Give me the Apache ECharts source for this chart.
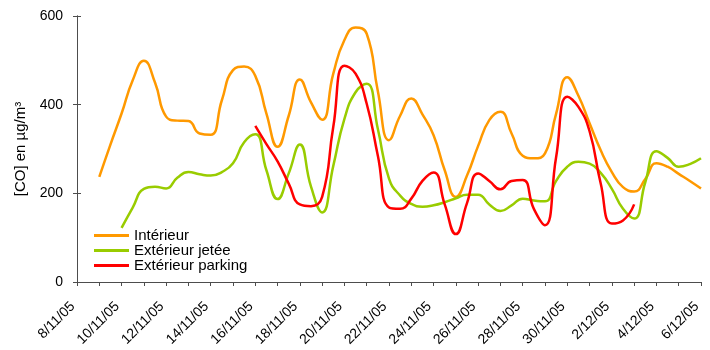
<!DOCTYPE html>
<html>
<head>
<meta charset="utf-8">
<script src="https://cdn.jsdelivr.net/npm/echarts@6/dist/echarts.min.js"></script>
<style>
  html, body { margin: 0; padding: 0; background: #ffffff; }
  #chart { width: 710px; height: 350px; }
</style>
</head>
<body>
<div id="chart"></div>
<script>
// jours du 8/11/05 au 6/12/05 (libellés de l'axe)
const dates = [
  '8/11/05', '9/11/05', '10/11/05', '11/11/05', '12/11/05', '13/11/05', '14/11/05',
  '15/11/05', '16/11/05', '17/11/05', '18/11/05', '19/11/05', '20/11/05', '21/11/05',
  '22/11/05', '23/11/05', '24/11/05', '25/11/05', '26/11/05', '27/11/05', '28/11/05',
  '29/11/05', '30/11/05', '1/12/05', '2/12/05', '3/12/05', '4/12/05', '5/12/05', '6/12/05'
]

// relevés toutes les 12 h : minuit puis midi
const slots = dates.flatMap((d, i) => i < dates.length - 1 ? [d, d + ' 12h'] : [d])

// [CO] en µg/m3, un point par demi-journée
const interieur = [
  null, null,
  237, 310, 380, 455, 499, 450, 373, 364, 363, 335, 332, 410, 478, 486, 465, 380,
  305, 375, 457, 405, 366, 470, 546, 574, 560, 430, 320, 375, 414, 378, 331, 252,
  192, 240, 307, 365, 384, 335, 285, 279, 290, 380, 462, 420, 358, 297, 248, 214,
  204, 232, 268, 260, 244, 228, 211
]

const exterieurJetee = [
  null, null, null, null,
  122, 168, 210, 215, 211, 235, 248, 243, 240, 248, 268, 315, 333, 252, 187, 245,
  310, 215, 157, 262, 368, 428, 447, 345, 233, 195, 176, 170, 173, 180, 189, 197,
  197, 175, 160, 173, 188, 184, 182, 228, 260, 271, 267, 246, 210, 165, 143, 225,
  295, 280, 260, 266, 279
]

const exterieurParking = [
  null, null, null, null, null, null, null, null,
  null, null, null, null, null, null, null, null,
  352, 311, 272, 222, 175, 171, 192, 350, 488, 470, 402, 285, 168, 165, 188, 228,
  247, 175, 108, 178, 245, 228, 209, 228, 230, 165, 128, 282, 418, 395, 340, 222,
  132, 139, 175,
  null, null, null, null, null, null
]

const yTicks = [0, 200, 400, 600]

const FONT = '"Liberation Sans", Arial, sans-serif'
const AXIS_COLOR = '#4d4d4d'

function lineSeries(name, data, color) {
  return {
    name,
    type: 'line',
    data,
    smooth: 0.5,
    showSymbol: false,
    connectNulls: false,
    lineStyle: { color, width: 2.5 },
    itemStyle: { color }
  }
}

function buildOption() {
  return {
    backgroundColor: '#ffffff',
    animation: false,
    textStyle: { fontFamily: FONT, color: '#000000' },
    grid: { left: 77, right: 9, top: 16, bottom: 68 },
    legend: {
      orient: 'vertical',
      left: 94,
      top: 228,
      padding: 0,
      itemGap: 0,
      itemWidth: 35,
      itemHeight: 3,
      icon: 'rect',
      textStyle: { fontFamily: FONT, fontSize: 15, color: '#000000', lineHeight: 14 },
      data: ['Intérieur', 'Extérieur jetée', 'Extérieur parking']
    },
    xAxis: {
      type: 'category',
      data: slots,
      boundaryGap: false,
      axisLine: { lineStyle: { color: AXIS_COLOR, width: 1 } },
      axisTick: { interval: 1, length: 4, lineStyle: { color: AXIS_COLOR } },
      axisLabel: {
        interval: 3,
        rotate: 45,
        margin: 18,
        padding: [0, 6, 0, 0],
        fontFamily: FONT,
        fontSize: 14,
        color: '#000000'
      },
      splitLine: { show: false }
    },
    yAxis: [
      {
        type: 'value',
        min: yTicks[0],
        max: yTicks[yTicks.length - 1],
        interval: 200,
        name: '[CO] en µg/m³',
        nameLocation: 'middle',
        nameGap: 46,
        nameTextStyle: { fontFamily: FONT, fontSize: 15, color: '#000000' },
        axisLine: { show: true, lineStyle: { color: AXIS_COLOR, width: 1 } },
        axisTick: { show: true, length: 4, lineStyle: { color: AXIS_COLOR } },
        axisLabel: { margin: 14, fontFamily: FONT, fontSize: 14, color: '#000000' },
        splitLine: { show: false }
      },
      {
        // même échelle, ticks vers l'intérieur pour former les croix
        type: 'value',
        min: yTicks[0],
        max: yTicks[yTicks.length - 1],
        interval: 200,
        position: 'left',
        offset: 0,
        axisLine: { show: true, lineStyle: { color: AXIS_COLOR, width: 1 } },
        axisTick: { show: true, inside: true, length: 4, lineStyle: { color: AXIS_COLOR } },
        axisLabel: { show: false },
        splitLine: { show: false }
      }
    ],
    series: [
      lineSeries('Intérieur', interieur, '#FF9900'),
      lineSeries('Extérieur jetée', exterieurJetee, '#99CC00'),
      lineSeries('Extérieur parking', exterieurParking, '#FF0000')
    ]
  }
}

const chart = echarts.init(document.getElementById('chart'), null, { renderer: 'canvas' })
chart.setOption(buildOption())
</script>
</body>
</html>
